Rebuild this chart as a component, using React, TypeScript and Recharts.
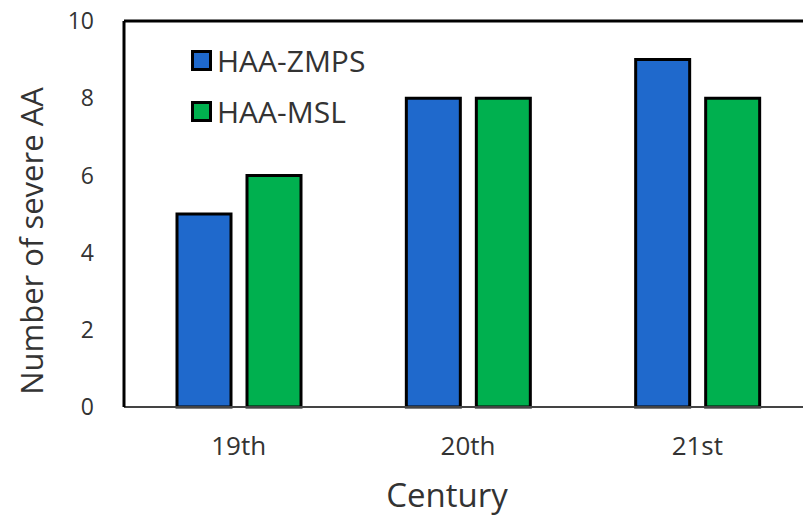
import { BarChart, Bar, XAxis, YAxis, ReferenceLine, Legend } from "recharts";

const centuries = ["19th", "20th", "21st"];
const zmps = [5, 8, 9];
const msl = [6, 8, 8];
const yTicks = [0, 2, 4, 6, 8, 10];

const BLUE = "#1f69cc";
const GREEN = "#00b04f";
const FONT = "'Open Sans', sans-serif";
const TEXT = "#333333";

const data = centuries.map((c, i) => ({ century: c, zmps: zmps[i], msl: msl[i] }));

const series = [
  { key: "zmps", name: "HAA-ZMPS", fill: BLUE },
  { key: "msl", name: "HAA-MSL", fill: GREEN },
];

function LegendBox() {
  return (
    <div style={{ fontFamily: FONT, fontSize: 30, color: TEXT }}>
      {series.map((s) => (
        <div key={s.key} style={{ display: "flex", alignItems: "center", height: 51 }}>
          <span
            style={{
              display: "inline-block",
              width: 21,
              height: 21,
              boxSizing: "border-box",
              border: "3px solid #000",
              background: s.fill,
              marginRight: 5,
            }}
          />
          <span style={{ lineHeight: 1 }}>{s.name}</span>
        </div>
      ))}
    </div>
  );
}

export default function App() {
  return (
    <div style={{ position: "fixed", left: 0, top: 0, width: 803, height: 516, overflow: "hidden", background: "#fff" }}>
      <BarChart
        width={812}
        height={516}
        data={data}
        margin={{ top: 21, right: 0, left: 0, bottom: 0 }}
        barSize={54}
        barGap={16}
      >
        <XAxis
          dataKey="century"
          height={109}
          tickLine={false}
          tickSize={0}
          tickMargin={30}
          axisLine={{ stroke: "#444", strokeWidth: 2 }}
          tick={{ fill: TEXT, fontSize: 26, fontFamily: FONT }}
          label={{
            content: ({ viewBox }: any) => (
              <text
                x={viewBox.x + viewBox.width / 2 - 21}
                y={507}
                textAnchor="middle"
                fill={TEXT}
                fontSize={33}
                fontFamily={FONT}
              >
                Century
              </text>
            ),
          }}
        />
        <YAxis
          width={124}
          domain={[0, 10]}
          ticks={yTicks}
          interval={0}
          tickLine={false}
          tickSize={0}
          tickMargin={30}
          axisLine={{ stroke: "#000", strokeWidth: 3 }}
          tick={{ fill: TEXT, fontSize: 23, fontFamily: FONT }}
          label={{
            content: ({ viewBox }: any) => {
              const cx = viewBox.x + 43;
              const cy = viewBox.y + viewBox.height / 2 + 27;
              return (
                <text
                  x={cx}
                  y={cy}
                  transform={`rotate(-90, ${cx}, ${cy})`}
                  textAnchor="middle"
                  fill={TEXT}
                  fontSize={31}
                  fontFamily={FONT}
                >
                  Number of severe AA
                </text>
              );
            },
          }}
        />
        <ReferenceLine y={10} stroke="#000" strokeWidth={3} />
        <Legend
          layout="vertical"
          verticalAlign="middle"
          align="center"
          content={() => <LegendBox />}
          wrapperStyle={{ position: "absolute", left: 191, top: 35, width: "auto" }}
        />
        {series.map((s) => (
          <Bar
            key={s.key}
            dataKey={s.key}
            name={s.name}
            fill={s.fill}
            stroke="#000"
            strokeWidth={3}
            isAnimationActive={false}
          />
        ))}
      </BarChart>
    </div>
  );
}
